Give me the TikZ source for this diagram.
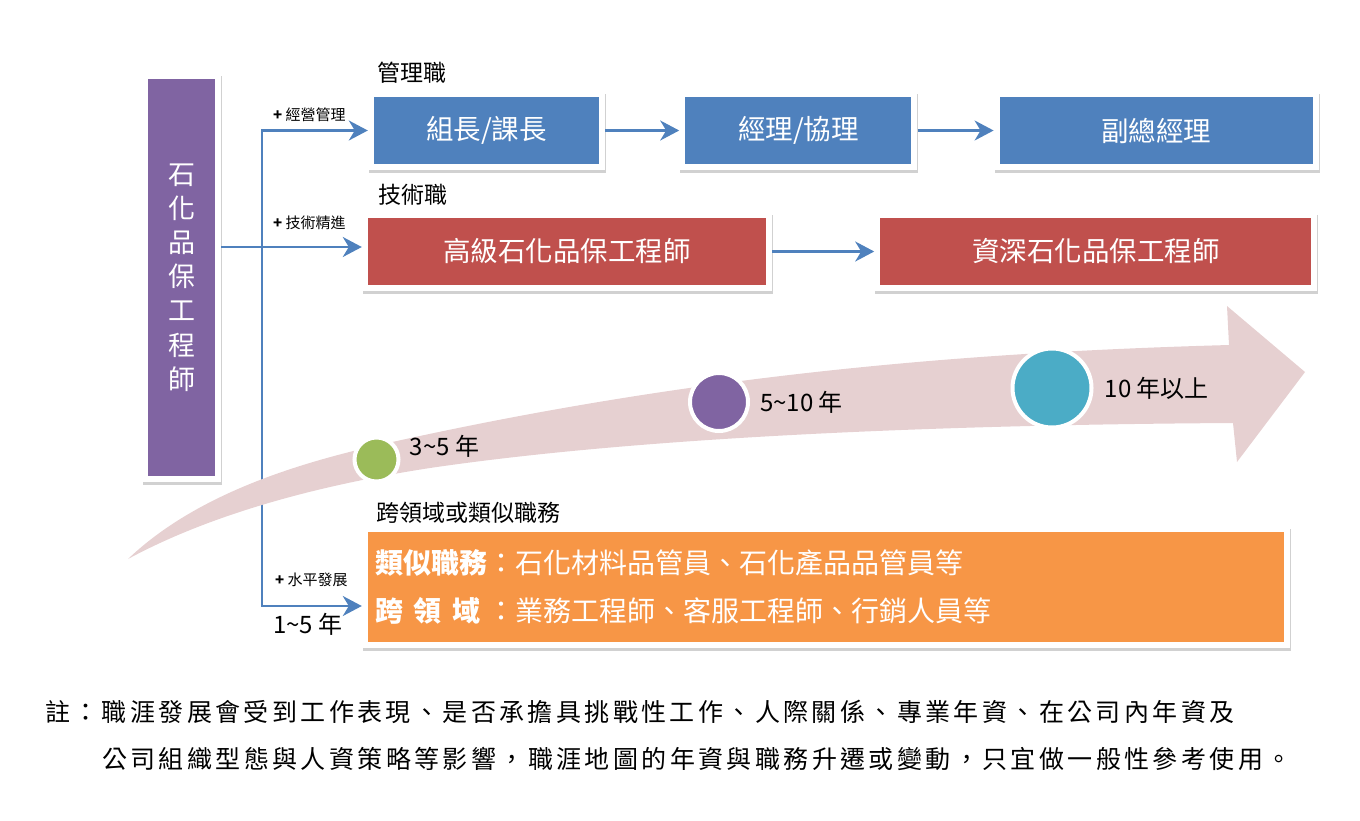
\documentclass[tikz,border=0pt]{standalone}
\usepackage{fontspec}
\setmainfont{Noto Sans CJK TC}
\newfontfamily\notefont[LetterSpace=13.6]{Noto Sans CJK TC}
\usetikzlibrary{positioning,shadows,arrows.meta}

\definecolor{mgrblue}{HTML}{4F81BD}
\definecolor{techred}{HTML}{C0504D}
\definecolor{crossorange}{HTML}{F79646}
\definecolor{rolepurple}{HTML}{8064A2}
\definecolor{ballgreen}{HTML}{9BBB59}
\definecolor{ballcyan}{HTML}{4BACC6}
\definecolor{bandpink}{RGB}{230,208,209}

\begin{document}
\begin{tikzpicture}[
  x = 1pt, y = -1pt,
  node distance = 75pt,
  block/.style={rectangle, fill=white, text=white, inner sep=0pt,
    minimum height = 79pt, font=\fontsize{27.5}{30}\selectfont,
    drop shadow={shadow xshift=1pt, shadow yshift=-2.5pt, fill=black!45, opacity=.4},
    path picture={\fill[#1] ([shift={(6pt,6pt)}]path picture bounding box.south west)
      rectangle ([shift={(-6pt,-6pt)}]path picture bounding box.north east);}},
  head/.style={font=\fontsize{23}{26}\selectfont, inner sep=0pt},
  tag/.style={font=\fontsize{15}{17}\selectfont, inner sep=0pt, anchor=west},
  year/.style={font=\fontsize{24}{26}\selectfont, inner sep=0pt},
  ball/.style={circle, draw=white, line width=4pt, fill=#1},
  line/.style={draw=mgrblue, line width=2.4pt, -{Stealth[length=19pt, width=20pt, inset=6pt]}}
  ]
\useasboundingbox (0,0) rectangle (1360,820);

\node [block=rolepurple, minimum width=79pt, minimum height=409pt, align=center,
  font=\fontsize{27}{34.2}\selectfont] (title) at (181.5,277.5)
  {石\\化\\品\\保\\工\\程\\師};

\node [block=mgrblue, minimum width=237pt] (mgr1) at (486.5,130.5) {組長/課長};
\node [block=mgrblue, minimum width=238pt, right=74pt of mgr1] (mgr2) {經理/協理};
\node [block=mgrblue, minimum width=325pt, right=76pt of mgr2] (mgr3) {副總經理};

\node [block=techred, minimum width=410pt] (tech1) at (567,251.5) {高級石化品保工程師};
\node [block=techred, minimum width=443pt, right=102pt of tech1] (tech2) {資深石化品保工程師};

\node [block=crossorange, minimum width=928pt, minimum height=122pt, text width=902pt,
  inner xsep=13pt, align=left, font=\fontsize{28}{48}\selectfont] (cross) at (826,587)
  {\makebox[112pt][l]{\bfseries 類似職務}：石化材料品管員、石化產品品管員等\\
   \makebox[112pt][l]{\bfseries 跨\hspace{11pt}領\hspace{11pt}域}：業務工程師、客服工程師、行銷人員等};

\node [head] (mgrhead) at (412,73) {管理職};
\node [head] (techhead) at (413,195) {技術職};
\node [head] (crosshead) at (468,513) {跨領域或類似職務};

\node [tag] (mgrtag) at (273,115) {\textbf{+} 經營管理};
\node [tag] (techtag) at (273,223) {\textbf{+} 技術精進};
\node [tag] (crosstag) at (275,580) {\textbf{+} 水平發展};
\node [year, anchor=west] (crossyear) at (273,624) {1\textasciitilde5 年};

% branches
\coordinate (jn) at (262,247);
\path [line] (title.east |- jn) -- (tech1.west |- jn);
\path [line] (jn) |- (mgr1);
\path [line] (jn) |- ([yshift=-19pt]cross.west);

\path [line] (mgr1) -- (mgr2);
\path [line] (mgr2) -- (mgr3);
\path [line] (tech1) -- (tech2);

% time band
\fill [bandpink] (128,559) .. controls (190,500) and (280,468) .. (370,447)
  .. controls (700,372) and (979,352) .. (1229,345)
  -- (1227,306) -- (1305,372) -- (1237,462) -- (1233,423)
  .. controls (900,425) and (620,440) .. (430,468)
  .. controls (300,488) and (200,520) .. (128,559) -- cycle;

\node [ball=ballgreen, minimum size=44pt] (b1) at (376.5,459.5) {};
\node [ball=rolepurple, minimum size=58pt] (b2) at (719,402) {};
\node [ball=ballcyan, minimum size=79pt] (b3) at (1052,388) {};

\node [year, right=9pt of b1, yshift=13pt] (y1) {3\textasciitilde5 年};
\node [year, right=10pt of b2] (y2) {5\textasciitilde10 年};
\node [year, right=11pt of b3] (y3) {10 年以上};

% note
\node [anchor=west, inner sep=0pt, font=\notefont\fontsize{25}{28}\selectfont] (note1) at (45,712)
  {註：職涯發展會受到工作表現、是否承擔具挑戰性工作、人際關係、專業年資、在公司內年資及};
\node [anchor=west, inner sep=0pt, font=\notefont\fontsize{25}{28}\selectfont] (note2) at (102,759)
  {公司組織型態與人資策略等影響，職涯地圖的年資與職務升遷或變動，只宜做一般性參考使用。};
\end{tikzpicture}
\end{document}
